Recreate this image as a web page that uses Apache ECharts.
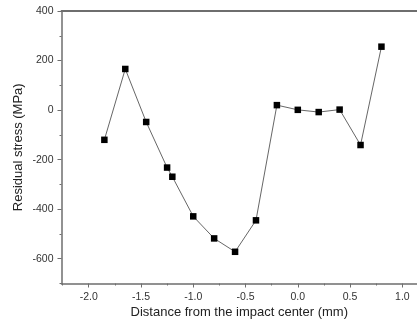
<!DOCTYPE html>
<html>
<head>
<meta charset="utf-8">
<script src="https://cdn.jsdelivr.net/npm/echarts@6/dist/echarts.min.js"></script>
<style>html,body{margin:0;padding:0;background:#fff}#c{width:417px;height:327px}</style>
</head>
<body>
<div id="c"></div>
<script>
// Data
const xValues = [-1.85, -1.65, -1.45, -1.25, -1.2, -1.0, -0.8, -0.6, -0.4, -0.2, 0.0, 0.2, 0.4, 0.6, 0.8];
const stress  = [-120, 166, -48, -232, -269, -429, -518, -572, -445, 20, 1, -8, 2, -141, 256];
const xTicks = [-2.0, -1.5, -1.0, -0.5, 0.0, 0.5, 1.0];
const xMinorTicks = [-2.25, -1.75, -1.25, -0.75, -0.25, 0.25, 0.75];
const yTicks = [-600, -400, -200, 0, 200, 400];
const yMinorTicks = [-700, -500, -300, -100, 100, 300];
const xName = 'Distance from the impact center (mm)';
const yName = 'Residual stress (MPa)';

const X_MIN = -2.26, X_MAX = 1.14, Y_MIN = -700, Y_MAX = 400;
const axisColor = '#6e6e6e';
const font = 'Arial, "Liberation Sans", sans-serif';

const chart = echarts.init(document.getElementById('c'), null, {renderer: 'canvas'});
chart.setOption({
  animation: false,
  backgroundColor: '#fff',
  grid: {left: 61.5, right: 0, top: 11, bottom: 43.5, containLabel: false},
  xAxis: [
    {
      type: 'value', min: X_MIN, max: X_MAX, position: 'bottom',
      name: xName, nameLocation: 'middle', nameGap: 22, nameMoveOverlap: false,
      nameTextStyle: {fontFamily: font, fontSize: 13, color: '#222'},
      axisLine: {show: true, onZero: false, lineStyle: {color: axisColor, width: 1.5}},
      axisTick: {show: true, inside: false, length: 4, customValues: xTicks, lineStyle: {color: axisColor, width: 1}},
      axisLabel: {show: true, customValues: xTicks, margin: 8, fontFamily: font, fontSize: 10.5, color: '#333',
        formatter: v => v.toFixed(1)},
      splitLine: {show: false}
    },
    {
      type: 'value', min: X_MIN, max: X_MAX, position: 'bottom',
      axisLine: {show: false, onZero: false},
      axisTick: {show: true, inside: false, length: 2, customValues: xMinorTicks, lineStyle: {color: axisColor, width: 1}},
      axisLabel: {show: false}, splitLine: {show: false}
    },
    {
      type: 'value', min: X_MIN, max: X_MAX, position: 'top',
      axisLine: {show: true, onZero: false, lineStyle: {color: axisColor, width: 1.8}},
      axisTick: {show: false}, axisLabel: {show: false}, splitLine: {show: false}
    }
  ],
  yAxis: [
    {
      type: 'value', min: Y_MIN, max: Y_MAX, position: 'left',
      name: yName, nameLocation: 'middle', nameGap: 37, nameRotate: 90, nameMoveOverlap: false,
      nameTextStyle: {fontFamily: font, fontSize: 13, color: '#222'},
      axisLine: {show: true, onZero: false, lineStyle: {color: axisColor, width: 1.5}},
      axisTick: {show: true, inside: false, length: 4, customValues: yTicks, lineStyle: {color: axisColor, width: 1}},
      axisLabel: {show: true, customValues: yTicks, margin: 8, fontFamily: font, fontSize: 10.5, color: '#333'},
      splitLine: {show: false}
    },
    {
      type: 'value', min: Y_MIN, max: Y_MAX, position: 'left',
      axisLine: {show: false, onZero: false},
      axisTick: {show: true, inside: false, length: 2, customValues: yMinorTicks, lineStyle: {color: axisColor, width: 1}},
      axisLabel: {show: false}, splitLine: {show: false}
    }
  ],
  series: [{
    type: 'line',
    xAxisIndex: 0, yAxisIndex: 0,
    data: xValues.map((x, i) => [x, stress[i]]),
    symbol: 'rect', symbolSize: 6.5,
    itemStyle: {color: '#000'},
    lineStyle: {color: '#555', width: 0.9},
    z: 5
  }]
});
</script>
</body>
</html>
